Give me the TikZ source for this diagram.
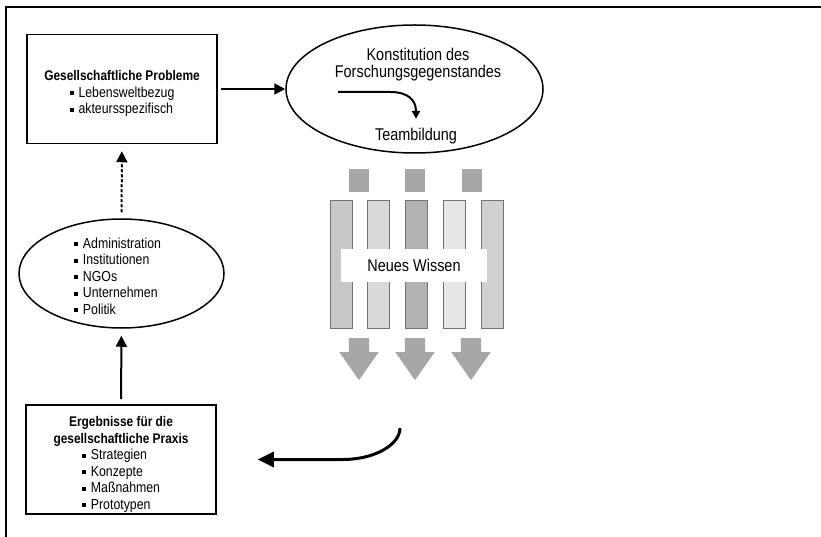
\documentclass[tikz,border=0pt]{standalone}
\usepackage{fontspec}
\setmainfont[FakeStretch=0.85]{Liberation Sans}
\usetikzlibrary{arrows.meta,positioning,shapes.geometric,shapes.arrows}
\definecolor{quadgrau}{HTML}{A6A6A6}
\definecolor{balkenA}{HTML}{C8C8C8}
\definecolor{balkenB}{HTML}{D9D9D9}
\definecolor{balkenC}{HTML}{B2B2B2}
\definecolor{balkenD}{HTML}{E6E6E6}
\definecolor{balkenE}{HTML}{D0D0D0}
\newcommand{\bul}{\rule[1.8pt]{4pt}{4pt}\hspace{5pt}}
\newcommand{\listenschrift}{\fontsize{14.5}{16.5}\selectfont}

\begin{document}
\begin{tikzpicture}[
            x=1pt, y=-1pt,
            font=\fontsize{14}{16.5}\selectfont,
            node distance=15pt and 15pt,
            kasten/.style={draw, line width=1.5pt, align=center, minimum width=190pt, minimum height=109pt, inner sep=0pt},
            oval/.style={draw, ellipse, line width=1.5pt, inner sep=0pt},
            gross/.style={font=\fontsize{17}{17}\selectfont, inner sep=0pt},
            balken/.style={draw=black!55, line width=0.8pt, minimum width=22pt, minimum height=128pt, inner sep=0pt},
            quadrat/.style={fill=quadgrau, minimum width=20pt, minimum height=23pt, inner sep=0pt},
            wissenpfeil/.style={single arrow, fill=quadgrau, rotate=-90, inner xsep=0pt, inner ysep=10pt, minimum height=42pt, single arrow head extend=9.5pt, single arrow tip angle=70, anchor=tail},
            pfeil/.style={-{Triangle[length=11pt, width=11pt]}, line width=2pt},
            kleinpfeil/.style={-{Triangle[length=8pt, width=8pt]}, line width=2pt},
            rueckpfeil/.style={-{Triangle[length=16pt, width=15pt]}, line width=3pt}
        ]
            \useasboundingbox (0,0) rectangle (821,537);
            \draw[line width=1.6pt] (6,537) -- (6,7) -- (821,7);

            \node[kasten] (probleme) at (122,89) {\rule{0pt}{21pt}\textbf{Gesellschaftliche Probleme}\\\listenschrift\begin{tabular}[t]{@{}l@{}}\bul Lebensweltbezug\\\bul akteursspezifisch\end{tabular}};

            \node[oval, minimum width=257pt, minimum height=128pt] (konst) at (414.5,89) {};
            \node[gross, align=center] (konsttext) at (418,65) {Konstitution des\\Forschungsgegenstandes};
            \node[gross] (team) at (416,136) {Teambildung};
            \coordinate (teamstart) at (338,92);
            \draw[kleinpfeil, shorten >=9pt] (teamstart) -- (390,92) .. controls (408,92) and (416,100) .. (team.north);

            \draw[pfeil, shorten <=3pt] (probleme.east) -- (konst.west);

            \node[oval, minimum width=205pt, minimum height=109pt] (akteure) at (121.5,273.5) {};
            \node[align=left, inner sep=0pt, font=\listenschrift] (akteurliste) at (117.5,276) {\bul Administration\\\bul Institutionen\\\bul NGOs\\\bul Unternehmen\\\bul Politik};

            \node[kasten] (ergebnisse) at (121,459.5) {\rule{0pt}{22pt}\textbf{Ergebnisse für die}\\\textbf{gesellschaftliche Praxis}\\\listenschrift\begin{tabular}[t]{@{}l@{}}\bul Strategien\\\bul Konzepte\\\bul Maßnahmen\\\bul Prototypen\end{tabular}};

            \draw[pfeil, dash pattern=on 3pt off 2pt, shorten <=6pt, shorten >=7pt] (akteure) -- (probleme);
            \draw[pfeil, shorten <=5pt, shorten >=7pt] (ergebnisse) -- (akteure);

            \node[quadrat] (q1) at (359,180.5) {};
            \node[quadrat, right=36pt of q1] (q2) {};
            \node[quadrat, right=36pt of q2] (q3) {};

            \node[balken, fill=balkenA] (b1) at (341,264) {};
            \node[balken, fill=balkenB, right=of b1] (b2) {};
            \node[balken, fill=balkenC, right=of b2] (b3) {};
            \node[balken, fill=balkenD, right=of b3] (b4) {};
            \node[balken, fill=balkenE, right=of b4] (b5) {};
            \node[gross, fill=white, minimum width=146pt, minimum height=33pt] (wissen) at (414,265.5) {Neues Wissen};

            \node[wissenpfeil] (p1) at (359,338) {};
            \node[wissenpfeil] (p2) at (415,338) {};
            \node[wissenpfeil] (p3) at (471,338) {};

            \coordinate (rueckstart) at (400,428);
            \draw[rueckpfeil, shorten >=41pt] (rueckstart) .. controls (400,445) and (374,459.5) .. (343,459.5) -- (ergebnisse.east);
        \end{tikzpicture}
\end{document}
